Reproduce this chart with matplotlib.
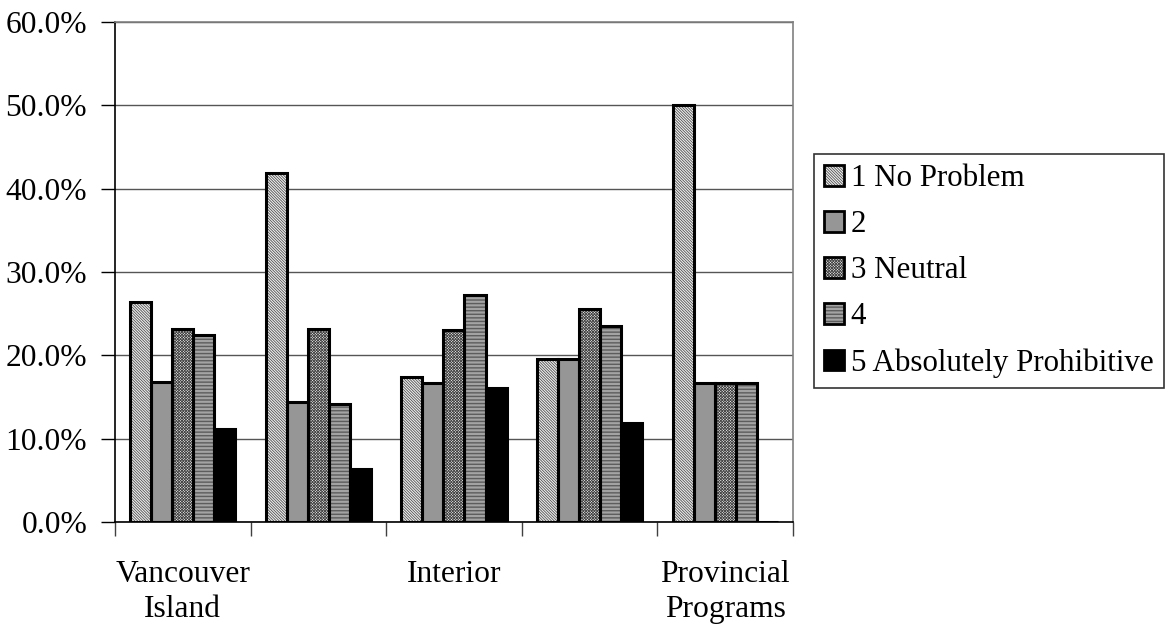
import numpy as np
import matplotlib
matplotlib.use('Agg')
import matplotlib.pyplot as plt
from matplotlib.patches import Patch
from matplotlib.legend_handler import HandlerTuple

# Dados
regioes = ['Vancouver\nIsland', '', 'Interior', '', 'Provincial\nPrograms']
series = ['1 No Problem', '2', '3 Neutral', '4', '5 Absolutely Prohibitive']
s1 = [26.4, 41.9, 17.4, 19.6, 50.0]
s2 = [16.8, 14.4, 16.7, 19.6, 16.7]
s3 = [23.2, 23.2, 23.0, 25.5, 16.7]
s4 = [22.4, 14.1, 27.2, 23.5, 16.7]
s5 = [11.2, 6.3, 16.1, 11.9, 0.0]
valores = [s1, s2, s3, s4, s5]
y_ticks = [0, 10, 20, 30, 40, 50, 60]

# Estilo de cada série: (cor de fundo, hachura, cor da hachura)
estilos = [
    ('#f0f0f0', '\\' * 12, '#505050'),
    ('#969696', None, '#969696'),
    ('#f4f4f4', 'x' * 12, '#454545'),
    ('#f4f4f4', '-' * 12, '#404040'),
    ('#000000', None, '#000000'),
]

plt.rcParams['font.family'] = ['Liberation Serif', 'DejaVu Serif']
plt.rcParams['hatch.linewidth'] = 0.6

fig = plt.figure(figsize=(11.72, 6.28), dpi=100)
ax = fig.add_axes([0.0981, 0.1688, 0.5785, 0.7962])

n = len(series)
largura = 0.155
centros = np.arange(len(regioes)) + 0.5
handles = []
for i, (vals, (face, hatch, hcor)) in enumerate(zip(valores, estilos)):
    x = centros + (i - (n - 1) / 2) * largura
    ax.bar(x, vals, largura, color=face, hatch=hatch, edgecolor=hcor,
           linewidth=0, zorder=3)
    ax.bar(x, vals, largura, fill=False, edgecolor='black', linewidth=2.2,
           zorder=4)
    p1 = Patch(facecolor=face, hatch=hatch, edgecolor=hcor, linewidth=0)
    p2 = Patch(fill=False, edgecolor='black', linewidth=2.0)
    handles.append((p1, p2))

ax.set_xlim(0, len(regioes))
ax.set_ylim(0, 60)
ax.set_yticks(y_ticks)
ax.set_yticklabels([f'{v:.1f}%' for v in y_ticks])
ax.set_xticks(np.arange(len(regioes) + 1))
ax.set_xticklabels([])
ax.set_xticks(centros, minor=True)
ax.set_xticklabels(regioes, minor=True, linespacing=1.25, va='top')
ax.tick_params(axis='x', which='major', length=10, width=1, color='#404040')
ax.tick_params(axis='x', which='minor', length=0, pad=27.5, labelsize=22.7)
ax.tick_params(axis='y', length=10, width=1, pad=10, labelsize=22.7)

ax.grid(axis='y', color='#555555', linewidth=1, zorder=0)
ax.set_axisbelow(True)
ax.spines['left'].set_color('black')
ax.spines['bottom'].set_color('black')
ax.spines['top'].set_color('#808080')
ax.spines['right'].set_color('#808080')
for s in ax.spines.values():
    s.set_linewidth(1.2)

leg = fig.legend(handles, series, loc='upper left',
                 bbox_to_anchor=(0.6945, 0.7548), bbox_transform=fig.transFigure,
                 fontsize=22.3, frameon=True, fancybox=False, edgecolor='black',
                 handlelength=0.64, handleheight=0.64, handletextpad=0.22,
                 labelspacing=0.55, borderpad=0.33, borderaxespad=0,
                 handler_map={tuple: HandlerTuple(ndivide=1)})
leg.get_frame().set_linewidth(1.2)

fig.savefig('out.png', dpi=100)
